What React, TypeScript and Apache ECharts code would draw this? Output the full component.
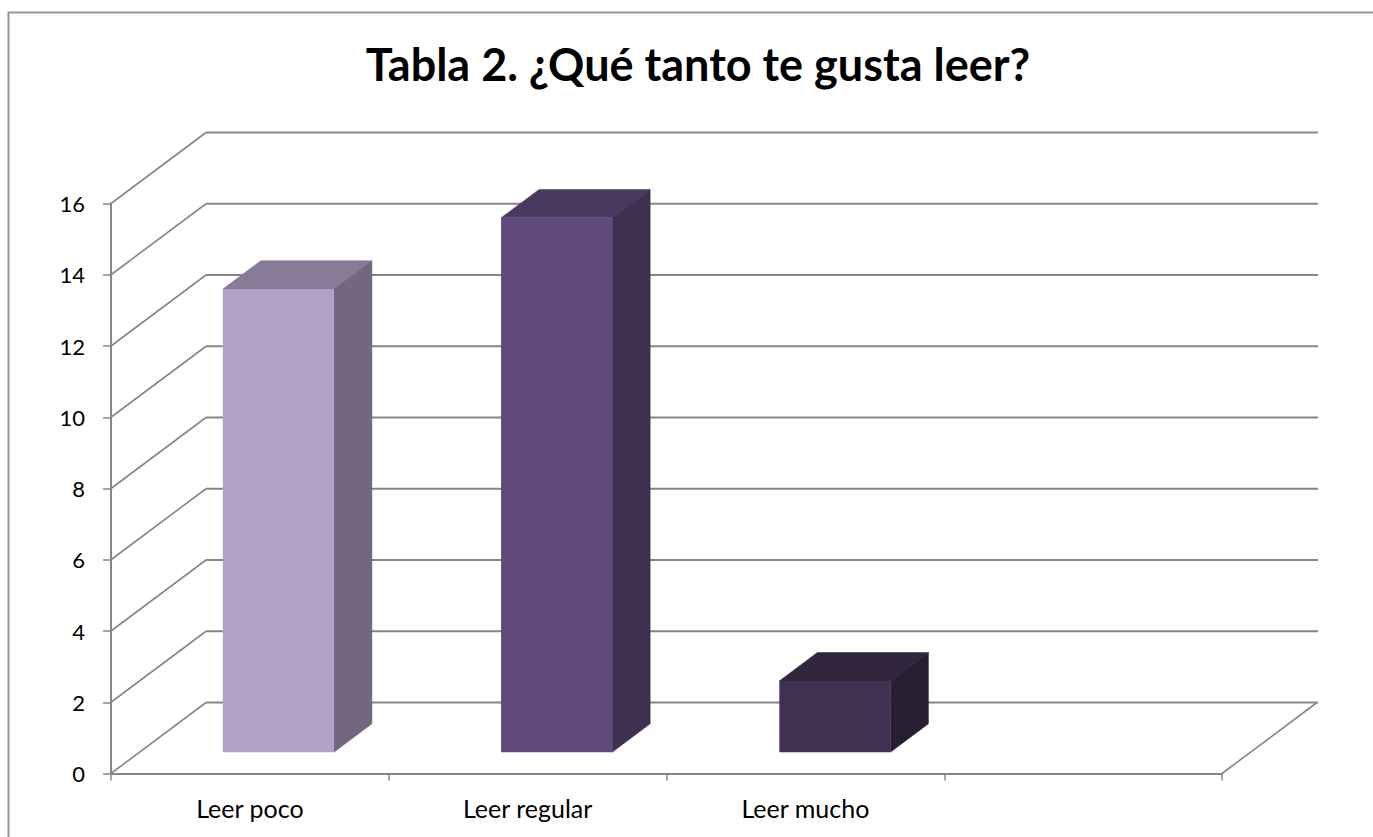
import React, { useEffect, useRef } from "react";
import * as echarts from "echarts";

const titleText = "Tabla 2. ¿Qué tanto te gusta leer?";
const categories = ["Leer poco", "Leer regular", "Leer mucho", ""];
const values = [13, 15, 2];
const yTicks = [0, 2, 4, 6, 8, 10, 12, 14, 16];
const frontColors = ["#B2A1C7", "#604A7B", "#403152"];
const topColors = ["#887B97", "#4A395E", "#32263F"];
const sideColors = ["#72677F", "#3F3050", "#281E33"];

const GRID = "#868686";
const FONT = "Lato, 'Open Sans', sans-serif";
const DEPTH_X = 95;
const DEPTH_Y = 71;

export default function App() {
  const ref = useRef<HTMLDivElement>(null);
  useEffect(() => {
    const chart = echarts.init(ref.current!, undefined, { renderer: "svg" });
    chart.setOption({
      animation: false,
      backgroundColor: "#ffffff",
      title: {
        text: titleText,
        left: 693,
        top: 36,
        textAlign: "center",
        textStyle: { fontFamily: FONT, fontSize: 45, fontWeight: "bold", color: "#000000" },
      },
      graphic: [
        {
          type: "polyline",
          shape: { points: [[8.5, 837], [8.5, 12.5], [1373, 12.5]] },
          style: { stroke: "#969696", lineWidth: 2, fill: "none" },
        },
      ],
      grid: { left: 111, top: 203.5, width: 1111, height: 570 },
      xAxis: {
        type: "category",
        data: categories,
        axisLine: { lineStyle: { color: GRID, width: 2 } },
        axisTick: { show: true, length: 7, lineStyle: { color: GRID, width: 1.5 } },
        axisLabel: { color: "#000000", fontFamily: FONT, fontSize: 25, margin: 22, interval: 0 },
        splitLine: { show: false },
      },
      yAxis: {
        type: "value",
        min: 0,
        max: 16,
        interval: 2,
        axisLine: { show: true, lineStyle: { color: GRID, width: 2 } },
        axisTick: { show: true, length: 8, lineStyle: { color: GRID, width: 1.5 } },
        axisLabel: { color: "#000000", fontFamily: FONT, fontSize: 22, margin: 26 },
        splitLine: { show: false },
      },
      series: [
        {
          type: "custom",
          name: "walls",
          z: 1,
          clip: false,
          silent: true,
          data: yTicks.map((t) => [0, t]),
          renderItem: (params: any, api: any) => {
            const v = api.value(1);
            const y = api.coord([0, v])[1];
            const x0 = params.coordSys.x;
            const x1 = x0 + params.coordSys.width;
            const children: any[] = [
              {
                type: "polyline",
                shape: { points: [[x0, y], [x0 + DEPTH_X, y - DEPTH_Y]] },
                style: { stroke: GRID, lineWidth: 1.6, fill: "none" },
              },
              {
                type: "line",
                shape: { x1: x0 + DEPTH_X, y1: y - DEPTH_Y, x2: x1 + DEPTH_X + 1, y2: y - DEPTH_Y },
                style: { stroke: GRID, lineWidth: 2 },
              },
            ];
            if (v === 0) {
              children.push({
                type: "line",
                shape: { x1, y1: y, x2: x1 + DEPTH_X, y2: y - DEPTH_Y },
                style: { stroke: GRID, lineWidth: 1.6 },
              });
            }
            return { type: "group", children };
          },
        },
        {
          type: "custom",
          name: "Tabla 2",
          z: 2,
          clip: false,
          data: values.map((v, i) => [i, v]),
          encode: { x: 0, y: 1 },
          renderItem: (params: any, api: any) => {
            const i = api.value(0);
            const v = api.value(1);
            const slot = api.size([1, 0])[0];
            const w = slot * 0.4;
            const fx = DEPTH_X * 0.3;
            const fy = DEPTH_Y * 0.3;
            const dx = DEPTH_X * 0.4;
            const dy = DEPTH_Y * 0.4;
            const cx = api.coord([i, 0])[0] + fx + i * 0.5;
            const yb = api.coord([i, 0])[1] - fy;
            const yt = api.coord([i, v])[1] - fy;
            const l = cx - w / 2;
            const r = cx + w / 2;
            const idx = params.dataIndex;
            return {
              type: "group",
              children: [
                {
                  type: "polygon",
                  shape: { points: [[l, yt], [r, yt], [r + dx, yt - dy], [l + dx, yt - dy]] },
                  style: { fill: topColors[idx], stroke: topColors[idx], lineWidth: 0.5 },
                },
                {
                  type: "polygon",
                  shape: { points: [[r, yt], [r + dx, yt - dy], [r + dx, yb - dy], [r, yb]] },
                  style: { fill: sideColors[idx], stroke: sideColors[idx], lineWidth: 0.5 },
                },
                {
                  type: "rect",
                  shape: { x: l, y: yt, width: w, height: yb - yt },
                  style: { fill: frontColors[idx] },
                },
              ],
            };
          },
        },
      ],
    });
    return () => chart.dispose();
  }, []);
  return (
    <div
      ref={ref}
      style={{ position: "absolute", left: 0, top: 0, width: 1373, height: 837 }}
    />
  );
}
